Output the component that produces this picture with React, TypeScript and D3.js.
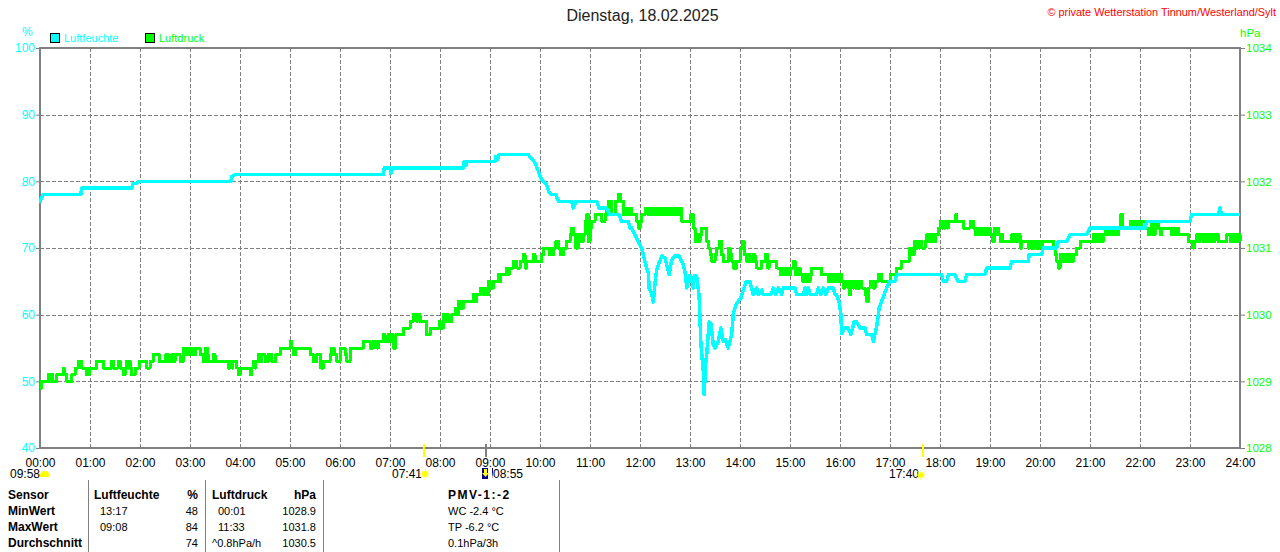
import { useEffect, useRef } from 'react';
import * as d3 from 'd3';

const humidityTicks = [40, 50, 60, 70, 80, 90, 100];
const pressureTicks = [1028, 1029, 1030, 1031, 1032, 1033, 1034];
const hourTicks = d3.range(0, 25);

// [minute of day, %]
const humidity: [number, number][] = [
  [0, 76.8], [2, 77.6], [4, 78], [49, 78], [50, 79], [110, 79], [112, 79.7], [116, 79.7], [118, 80], [229, 80], [230, 80.7], [234, 81],
  [412, 81], [413, 82], [420, 82], [421, 81.2], [423, 82], [508, 82], [509, 83], [511, 82.4], [513, 83], [546, 83], [547, 83.7], [549, 83.2], [551, 84],
  [586, 84], [594, 82.8], [602, 80.2], [608, 79.5], [611, 78.3], [614, 78], [619, 78], [622, 77], [638, 77], [640, 76], [643, 77], [668, 77], [671, 76],
  [680, 76], [684, 75], [695, 75], [698, 74], [706, 74], [708, 73], [710, 73], [714, 72], [722, 70], [726, 67.9], [730, 66.2], [731, 64], [734, 63.2], [736, 61.9],
  [738, 64.7], [740, 66.7], [746, 68.8], [750, 68.5], [755, 66], [758, 68.2], [762, 68.8], [767, 68.8], [772, 67.5], [775, 65.7], [776, 64], [779, 65.8], [781, 65.8],
  [784, 64], [785, 65.8], [788, 65.8], [791, 62.7], [792, 59.2], [793, 55.7], [796, 51.4], [797, 48], [799, 52.9], [800, 54], [803, 58.9], [805, 58.7], [808, 55.4],
  [810, 55], [814, 56], [817, 58], [820, 56], [822, 56.3], [826, 55], [830, 57], [832, 60.2], [836, 61.7], [841, 62.5], [847, 64.9], [852, 64.9], [856, 63],
  [860, 64], [862, 63], [866, 63.7], [868, 63], [877, 63], [880, 64], [883, 63], [886, 64], [890, 63], [892, 64], [906, 64], [908, 63], [916, 63], [918, 64], [920, 63],
  [922, 64], [924, 63], [932, 63], [934, 64], [937, 63], [940, 64], [943, 63], [946, 64], [952, 64], [954, 63], [956, 63], [959, 61.8], [961, 60.2], [962, 57.2],
  [966, 58], [970, 58], [973, 57], [977, 58.9], [980, 58.9], [984, 58], [990, 58], [992, 57], [998, 57], [1000, 56], [1004, 58.2], [1007, 61], [1012, 62.7], [1016, 64],
  [1019, 64.9], [1026, 65], [1028, 66], [1082, 66], [1084, 65], [1088, 65], [1090, 66], [1098, 66], [1102, 65], [1110, 65], [1112, 66], [1134, 66], [1136, 67],
  [1164, 67], [1166, 68], [1186, 68], [1187, 69], [1202, 69], [1204, 70], [1220, 70], [1222, 71], [1232, 71], [1236, 72], [1256, 72], [1260, 73], [1326, 73], [1328, 74],
  [1380, 74], [1382, 75], [1414, 75], [1416, 76], [1418, 75], [1440, 75],
];

// [minute the reading starts, hPa], the station only reports tenths
const pressureNight: [number, number][] = [
  [0, 1028.9], [2, 1029], [10, 1029.1], [11, 1029], [12, 1029.1], [13, 1029], [14, 1029.1], [15, 1029], [20, 1029.1], [28, 1029.2], [29, 1029.1], [32, 1029], [38, 1029.1],
  [42, 1029.2], [46, 1029.3], [50, 1029.2], [56, 1029.1], [59, 1029.2], [68, 1029.3], [76, 1029.2], [86, 1029.3], [88, 1029.2], [94, 1029.3], [96, 1029.2], [100, 1029.1],
  [102, 1029.2], [104, 1029.3], [106, 1029.2], [107, 1029.3], [108, 1029.2], [110, 1029.1], [114, 1029.2], [119, 1029.3], [128, 1029.2], [132, 1029.3], [136, 1029.4],
  [143, 1029.3], [151, 1029.4], [154, 1029.3], [158, 1029.4], [161, 1029.3], [162, 1029.4], [168, 1029.3], [172, 1029.5], [174, 1029.4], [175, 1029.5], [177, 1029.4],
  [178, 1029.5], [180, 1029.4], [181, 1029.5], [183, 1029.4], [184, 1029.5], [186, 1029.4], [187, 1029.5], [192, 1029.4], [196, 1029.3], [199, 1029.5], [201, 1029.4],
  [202, 1029.3], [208, 1029.4], [210, 1029.3], [226, 1029.2], [228, 1029.3], [230, 1029.2], [231, 1029.3], [236, 1029.2], [238, 1029.1], [240, 1029.2], [252, 1029.1],
  [254, 1029.2], [256, 1029.3], [258, 1029.2], [259, 1029.3], [262, 1029.4], [264, 1029.3], [266, 1029.4], [270, 1029.3], [274, 1029.4], [278, 1029.3], [283, 1029.4],
  [288, 1029.5], [296, 1029.5], [300, 1029.6], [302, 1029.5], [304, 1029.4], [307, 1029.5], [324, 1029.4], [328, 1029.3], [332, 1029.4], [337, 1029.2], [340, 1029.3],
  [348, 1029.4], [350, 1029.5], [353, 1029.4], [356, 1029.3], [360, 1029.5], [366, 1029.4], [368, 1029.3], [372, 1029.5], [386, 1029.5], [388, 1029.6], [396, 1029.5],
  [400, 1029.6], [404, 1029.5], [406, 1029.6], [412, 1029.7], [414, 1029.6], [418, 1029.7], [420, 1029.6], [422, 1029.7], [424, 1029.5], [427, 1029.7], [436, 1029.8],
  [444, 1029.9], [448, 1030], [452, 1029.9], [453, 1030], [456, 1029.9], [464, 1029.7], [468, 1029.8], [479, 1029.9], [480, 1029.8],
];

const pressureMorning: [number, number][] = [
  [484, 1030], [486, 1029.9], [487, 1030], [490, 1029.9], [494, 1030], [498, 1030.1], [500, 1030], [502, 1030.2], [504, 1030.1], [508, 1030.2], [520, 1030.3], [522, 1030.2],
  [524, 1030.3], [528, 1030.4], [532, 1030.3], [533, 1030.4], [536, 1030.3], [538, 1030.5], [540, 1030.4], [542, 1030.4], [544, 1030.5], [550, 1030.6], [552, 1030.5],
  [553, 1030.6], [560, 1030.7], [562, 1030.6], [563, 1030.7], [568, 1030.8], [572, 1030.7], [576, 1030.8], [580, 1030.9], [582, 1030.7], [584, 1030.8], [590, 1030.8],
  [592, 1030.9], [594, 1030.8], [602, 1030.9], [604, 1031], [611, 1030.9], [613, 1031], [614, 1030.9], [616, 1031], [619, 1031.1], [622, 1031], [624, 1030.9], [628, 1031],
  [632, 1031.1], [636, 1031.2], [638, 1031.3], [640, 1031.2], [643, 1031], [646, 1031.2], [648, 1031.1], [649, 1031.2], [651, 1031.1], [652, 1031.2], [654, 1031.4],
  [656, 1031.5], [658, 1031.1], [660, 1031.3], [662, 1031.4], [666, 1031.5], [674, 1031.4], [678, 1031.5], [680, 1031.6], [682, 1031.7], [686, 1031.5], [690, 1031.7],
  [694, 1031.8], [697, 1031.7], [700, 1031.5], [702, 1031.6], [704, 1031.5], [706, 1031.6], [707, 1031.5], [709, 1031.6], [710, 1031.5], [714, 1031.5], [716, 1031.4],
  [718, 1031.3], [720, 1031.4], [722, 1031.5], [726, 1031.6], [730, 1031.5], [732, 1031.6], [733, 1031.5], [735, 1031.6], [737, 1031.5], [739, 1031.6], [741, 1031.5],
  [743, 1031.6], [745, 1031.5], [748, 1031.6], [752, 1031.5], [754, 1031.6], [756, 1031.5], [757, 1031.6], [759, 1031.5], [760, 1031.6], [762, 1031.5], [763, 1031.6],
  [766, 1031.5], [768, 1031.6], [770, 1031.4], [781, 1031.5], [784, 1031.3], [786, 1031.1], [788, 1031.2], [790, 1031.1], [792, 1031.2], [794, 1031.3], [798, 1031.3],
  [800, 1031.1], [802, 1031], [804, 1030.9], [806, 1030.8], [808, 1030.8], [810, 1030.9], [812, 1031], [815, 1031.1], [818, 1030.9], [820, 1030.8], [826, 1031], [828, 1030.9],
  [830, 1030.8], [832, 1030.7], [834, 1030.7], [836, 1030.8], [840, 1031], [843, 1031.1], [845, 1030.9], [848, 1030.8], [850, 1030.9], [852, 1030.8], [856, 1030.9],
];

const pressureAfternoon: [number, number][] = [
  [858, 1030.8], [860, 1030.7], [862, 1030.7], [866, 1030.8], [870, 1030.9], [873, 1030.7], [875, 1030.8], [878, 1030.8], [880, 1030.8], [884, 1030.7], [888, 1030.6],
  [890, 1030.7], [893, 1030.6], [896, 1030.7], [899, 1030.6], [901, 1030.7], [904, 1030.8], [906, 1030.6], [907, 1030.7], [909, 1030.6], [910, 1030.7], [912, 1030.6],
  [915, 1030.5], [917, 1030.6], [918, 1030.5], [920, 1030.6], [922, 1030.5], [924, 1030.6], [926, 1030.7], [938, 1030.6], [946, 1030.5], [948, 1030.6], [949, 1030.5],
  [951, 1030.6], [952, 1030.5], [954, 1030.6], [955, 1030.5], [957, 1030.6], [958, 1030.5], [960, 1030.6], [962, 1030.5], [964, 1030.4], [966, 1030.5], [970, 1030.4],
  [971, 1030.3], [973, 1030.5], [975, 1030.4], [977, 1030.5], [978, 1030.4], [980, 1030.5], [982, 1030.4], [984, 1030.5], [986, 1030.4], [990, 1030.3], [992, 1030.2],
  [994, 1030.4], [996, 1030.5], [1000, 1030.4], [1002, 1030.5], [1006, 1030.6], [1010, 1030.5], [1018, 1030.5], [1020, 1030.6], [1028, 1030.7], [1034, 1030.8],
  [1043, 1031], [1046, 1030.9], [1049, 1031.1], [1051, 1031], [1053, 1031.1], [1055, 1031], [1056, 1031.1], [1058, 1031], [1062, 1031.1], [1064, 1031.2], [1066, 1031.1],
  [1067, 1031.2], [1069, 1031.1], [1071, 1031.2], [1073, 1031.1], [1075, 1031.2], [1078, 1031.3], [1080, 1031.4], [1082, 1031.3], [1083, 1031.4], [1085, 1031.3],
  [1086, 1031.4], [1088, 1031.3], [1090, 1031.4], [1098, 1031.4], [1099, 1031.5], [1100, 1031.4], [1108, 1031.3], [1111, 1031.3], [1116, 1031.4], [1118, 1031.4],
  [1120, 1031.3], [1122, 1031.2], [1124, 1031.3], [1125, 1031.2], [1127, 1031.3], [1128, 1031.2], [1130, 1031.3], [1132, 1031.2], [1134, 1031.3], [1136, 1031.2],
  [1138, 1031.3], [1140, 1031.2], [1143, 1031.1], [1145, 1031.3], [1146, 1031.2], [1148, 1031.3], [1150, 1031.2], [1152, 1031.1], [1154, 1031.2], [1155, 1031.1],
  [1166, 1031.2], [1168, 1031.1], [1170, 1031.2], [1172, 1031.1], [1175, 1031.2], [1176, 1031], [1178, 1031.1], [1186, 1031], [1188, 1031.1], [1189, 1031], [1191, 1031.1],
  [1192, 1031], [1194, 1031.1], [1195, 1031], [1197, 1031.1], [1198, 1031], [1200, 1031.1], [1201, 1031], [1203, 1031.1], [1216, 1031], [1218, 1030.9], [1220, 1030.8],
  [1222, 1030.7], [1224, 1030.9], [1226, 1030.8], [1228, 1030.9], [1230, 1030.8], [1232, 1030.9], [1234, 1030.8], [1236, 1030.9], [1238, 1030.8], [1240, 1030.9],
];

const pressureEvening: [number, number][] = [
  [1244, 1031], [1248, 1031.1], [1264, 1031.2], [1266, 1031.1], [1268, 1031.2], [1270, 1031.1], [1272, 1031.2], [1274, 1031.1], [1276, 1031.2], [1278, 1031.3], [1280, 1031.2],
  [1282, 1031.3], [1284, 1031.2], [1286, 1031.3], [1288, 1031.2], [1290, 1031.3], [1292, 1031.2], [1294, 1031.3], [1296, 1031.4], [1297, 1031.5], [1299, 1031.3], [1306, 1031.3],
  [1308, 1031.4], [1310, 1031.3], [1312, 1031.4], [1314, 1031.3], [1315, 1031.4], [1317, 1031.3], [1318, 1031.4], [1320, 1031.3], [1322, 1031.4], [1326, 1031.3], [1330, 1031.2],
  [1332, 1031.3], [1334, 1031.4], [1336, 1031.2], [1338, 1031.3], [1340, 1031.4], [1342, 1031.3], [1344, 1031.2], [1346, 1031.3], [1354, 1031.3], [1358, 1031.2], [1360, 1031.3],
  [1362, 1031.2], [1364, 1031.3], [1366, 1031.2], [1376, 1031.2], [1378, 1031.1], [1381, 1031.1], [1383, 1031], [1385, 1031.1], [1388, 1031.2], [1390, 1031.1], [1392, 1031.2],
  [1396, 1031.1], [1398, 1031.2], [1400, 1031.1], [1402, 1031.2], [1404, 1031.1], [1406, 1031.2], [1408, 1031.1], [1410, 1031.2], [1414, 1031.1], [1418, 1031.1], [1420, 1031.1],
  [1424, 1031.2], [1428, 1031.1], [1430, 1031.2], [1432, 1031.1], [1434, 1031.2], [1436, 1031.1], [1438, 1031.2], [1440, 1031.1],
];

const tableRows = [
  ['Sensor', 'Luftfeuchte', '%', 'Luftdruck', 'hPa', 'PMV-1:-2'],
  ['MinWert', '13:17', '48', '00:01', '1028.9', 'WC -2.4 °C'],
  ['MaxWert', '09:08', '84', '11:33', '1031.8', 'TP -6.2 °C'],
  ['Durchschnitt', '', '74', '^0.8hPa/h', '1030.5', '0.1hPa/3h'],
];

const sunrise = 461;
const sunset = 1060;
const moonset = 535;

const fontFamily = '"Liberation Sans", Arial, sans-serif';
const CYAN = '#00ffff';
const GREEN = '#00ff00';
const GRAY = '#808080';

export default function App() {
  const ref = useRef<SVGSVGElement | null>(null);

  useEffect(() => {
    if (!ref.current) return;
    const svg = d3.select(ref.current);
    svg.selectAll('*').remove();

    const x = d3.scaleLinear().domain([0, 1440]).range([40, 1240]);
    const yHum = d3.scaleLinear().domain([40, 100]).range([448, 48]);
    const yPres = d3.scaleLinear().domain([1028, 1034]).range([448, 48]);

    // grid
    const grid = svg.append('g').attr('stroke', GRAY).attr('stroke-dasharray', '4,2').attr('shape-rendering', 'crispEdges');
    grid.selectAll('line.v').data(hourTicks.slice(1, -1)).enter().append('line')
      .attr('x1', (d) => x(d * 60) + 0.5).attr('x2', (d) => x(d * 60) + 0.5).attr('y1', 48).attr('y2', 448);
    grid.selectAll('line.h').data(humidityTicks.slice(1, -1)).enter().append('line')
      .attr('x1', 40).attr('x2', 1240).attr('y1', (d) => yHum(d) + 0.5).attr('y2', (d) => yHum(d) + 0.5);

    // y axes
    const left = svg.append('g').attr('transform', 'translate(40,0)')
      .call(d3.axisLeft(yHum).tickValues(humidityTicks).tickSize(4).tickPadding(1));
    const right = svg.append('g').attr('transform', 'translate(1240,0)')
      .call(d3.axisRight(yPres).tickValues(pressureTicks).tickFormat(d3.format('d')).tickSize(5).tickPadding(1));
    left.selectAll('.tick line').attr('stroke', GRAY);
    right.selectAll('.tick line').attr('stroke', GRAY);
    left.selectAll('text').attr('fill', CYAN).attr('font-size', 12).attr('font-family', fontFamily);
    right.selectAll('text').attr('fill', GREEN).attr('font-size', 11.5).attr('font-family', fontFamily);
    left.select('.domain').remove();
    right.select('.domain').remove();

    // x labels
    const bottom = svg.append('g').attr('transform', 'translate(0,448)')
      .call(d3.axisBottom(x).tickValues(hourTicks.map((h) => h * 60))
        .tickFormat((d) => `${String(Math.floor(+d / 60)).padStart(2, '0')}:00`).tickSize(0).tickPadding(10));
    bottom.select('.domain').remove();
    bottom.selectAll('text').attr('fill', '#000').attr('font-size', 12).attr('font-family', fontFamily);

    // frame
    svg.append('rect').attr('x', 40).attr('y', 48).attr('width', 1200).attr('height', 400)
      .attr('fill', 'none').attr('stroke', GRAY).attr('stroke-width', 2).attr('shape-rendering', 'crispEdges');

    // series
    const pressure = [...pressureNight, ...pressureMorning, ...pressureAfternoon, ...pressureEvening];
    svg.append('path')
      .attr('d', d3.line<[number, number]>().x((d) => x(d[0])).y((d) => yPres(d[1])).curve(d3.curveStepAfter)(pressure))
      .attr('fill', 'none').attr('stroke', GREEN).attr('stroke-width', 3).attr('stroke-linejoin', 'round').attr('shape-rendering', 'crispEdges');
    svg.append('path')
      .attr('d', d3.line<[number, number]>().x((d) => x(d[0])).y((d) => yHum(d[1]))(humidity))
      .attr('fill', 'none').attr('stroke', CYAN).attr('stroke-width', 3.5).attr('stroke-linejoin', 'round').attr('shape-rendering', 'crispEdges');

    // sun and moon markers on the time axis
    [sunrise, sunset].forEach((m) => {
      svg.append('line').attr('x1', x(m)).attr('x2', x(m)).attr('y1', 444).attr('y2', 457)
        .attr('stroke', '#ffff00').attr('stroke-width', 2).attr('shape-rendering', 'crispEdges');
    });
    svg.append('line').attr('x1', x(moonset)).attr('x2', x(moonset)).attr('y1', 444).attr('y2', 457)
      .attr('stroke', GRAY).attr('stroke-width', 2).attr('shape-rendering', 'crispEdges');

    const txt = (s: string, px: number, py: number, opts: { anchor?: string; bold?: boolean; fill?: string; size?: number; spacing?: number } = {}) =>
      svg.append('text').text(s).attr('x', px).attr('y', py)
        .attr('text-anchor', opts.anchor ?? 'start')
        .attr('font-family', fontFamily).attr('font-size', opts.size ?? 12)
        .attr('letter-spacing', opts.spacing ?? 0)
        .attr('font-weight', opts.bold ? 'bold' : 'normal').attr('fill', opts.fill ?? '#000');

    const sun = (cx: number, cy: number, r: number) => {
      const g = svg.append('g').attr('stroke', '#ffff66').attr('fill', '#ffff00');
      d3.range(8).forEach((i) => {
        const a = (i * Math.PI) / 4;
        g.append('line').attr('x1', cx + Math.cos(a) * r).attr('y1', cy + Math.sin(a) * r)
          .attr('x2', cx + Math.cos(a) * (r + 2)).attr('y2', cy + Math.sin(a) * (r + 2));
      });
      g.append('circle').attr('cx', cx).attr('cy', cy).attr('r', r).attr('stroke', 'none');
    };

    txt('09:58', 10, 478);
    svg.append('path').attr('d', 'M40,477 L40,474 Q41,471 45,471 Q49,471 49,474 L49,477 Z').attr('fill', '#ffff00');
    txt('07:41', 392, 478);
    sun(425, 474, 3);
    txt('17:40', 889, 478);
    sun(921, 475, 3);
    svg.append('rect').attr('x', 482).attr('y', 468).attr('width', 11).attr('height', 11).attr('fill', '#000080');
    svg.append('path').attr('d', 'M488,468 h4 v4 l1,7 h-5 Z').attr('fill', '#ffffff');
    svg.append('path').attr('d', 'M484,469 h3 v4 h2 l-3.5,4 l-3.5,-4 h2 Z').attr('fill', '#ffff00');
    txt('08:55', 493, 478);

    // titles and legend
    txt('Dienstag, 18.02.2025', 642.5, 21, { anchor: 'middle', size: 16, fill: '#222' });
    txt('© private Wetterstation Tinnum/Westerland/Sylt', 1276, 16, { anchor: 'end', fill: '#ff0000', size: 10.9 });
    txt('%', 22, 36, { fill: CYAN });
    txt('hPa', 1240, 37, { fill: GREEN, size: 11.5 });
    svg.append('rect').attr('x', 50.5).attr('y', 33.5).attr('width', 9).attr('height', 9).attr('fill', CYAN).attr('stroke', '#000').attr('shape-rendering', 'crispEdges');
    txt('Luftfeuchte', 64, 42, { fill: CYAN, size: 11 });
    svg.append('rect').attr('x', 145.5).attr('y', 33.5).attr('width', 9).attr('height', 9).attr('fill', GREEN).attr('stroke', '#000').attr('shape-rendering', 'crispEdges');
    txt('Luftdruck', 159, 42, { fill: GREEN, size: 11 });

    // stats table
    [88.5, 205.5, 323.5, 559.5].forEach((px) => {
      svg.append('line').attr('x1', px).attr('x2', px).attr('y1', 480).attr('y2', 552).attr('stroke', GRAY).attr('shape-rendering', 'crispEdges');
    });
    const rowY = [499, 515, 531, 547];
    tableRows.forEach((row, i) => {
      const head = i === 0;
      const size = head ? 12 : 11;
      txt(row[0], 8, rowY[i], { bold: true });
      txt(row[1], head ? 94 : 100, rowY[i], { bold: head, size });
      txt(row[2], 198, rowY[i], { anchor: 'end', bold: head, size });
      txt(row[3], head || i === 3 ? 212 : 218, rowY[i], { bold: head, size });
      txt(row[4], 316, rowY[i], { anchor: 'end', bold: head, size });
      txt(row[5], 448, rowY[i], { bold: head, size, spacing: head ? 1.5 : 0 });
    });
  }, []);

  return (
    <svg ref={ref} width={1280} height={552} viewBox="0 0 1280 552"
      style={{ position: 'absolute', left: 0, top: 0, display: 'block', background: '#fff' }} />
  );
}
